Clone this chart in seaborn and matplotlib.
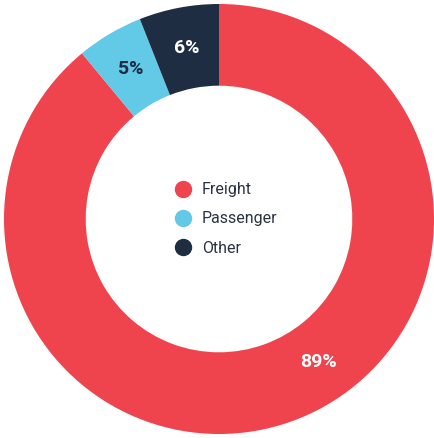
import matplotlib
matplotlib.use('Agg')
import matplotlib.pyplot as plt
from matplotlib.lines import Line2D
import numpy as np
import seaborn as sns

#%%
labels = ['Freight', 'Passenger', 'Other']
shares = [89, 5, 6]
pct_labels = ['89%', '5%', '6%']
colors = ['#EF434E', '#62C9E6', '#1F2D42']
label_colors = ['white', '#1F2D42', 'white']

#%%
sns.set_theme(style='white')
plt.rcParams['font.family'] = ['Roboto', 'DejaVu Sans']

fig = plt.figure(figsize=(4.34, 4.38), dpi=100)
ax = fig.add_axes([0, 0, 1, 1])

wedges, _ = ax.pie(shares, colors=colors, startangle=90, counterclock=False,
                   radius=1.0, wedgeprops=dict(width=0.38, linewidth=0))

# percentage labels in the middle of the ring (big slice label sits lower right)
for i, (w, txt, c) in enumerate(zip(wedges, pct_labels, label_colors)):
    ang = (w.theta1 + w.theta2) / 2
    if i == 0:
        ang = -55
    mid = np.deg2rad(ang)
    r = 0.81
    ax.text(r * np.cos(mid), r * np.sin(mid), txt, ha='center', va='center',
            color=c, fontsize=14, fontweight='bold')

handles = [Line2D([0], [0], marker='o', linestyle='', markersize=11.5,
                  markerfacecolor=c, markeredgecolor=c) for c in colors]
ax.legend(handles, labels, loc='center', bbox_to_anchor=(0.52, 0.5),
          frameon=False, fontsize=11.5, labelcolor='#2A3342',
          handletextpad=0.55, labelspacing=0.9, handlelength=1.2)

ax.set_xlim(-219 / 215, (434 - 219) / 215)
ax.set_ylim(-219 / 215, 219 / 215)
ax.set_aspect('equal')
ax.axis('off')

fig.savefig('out.png', dpi=100)
